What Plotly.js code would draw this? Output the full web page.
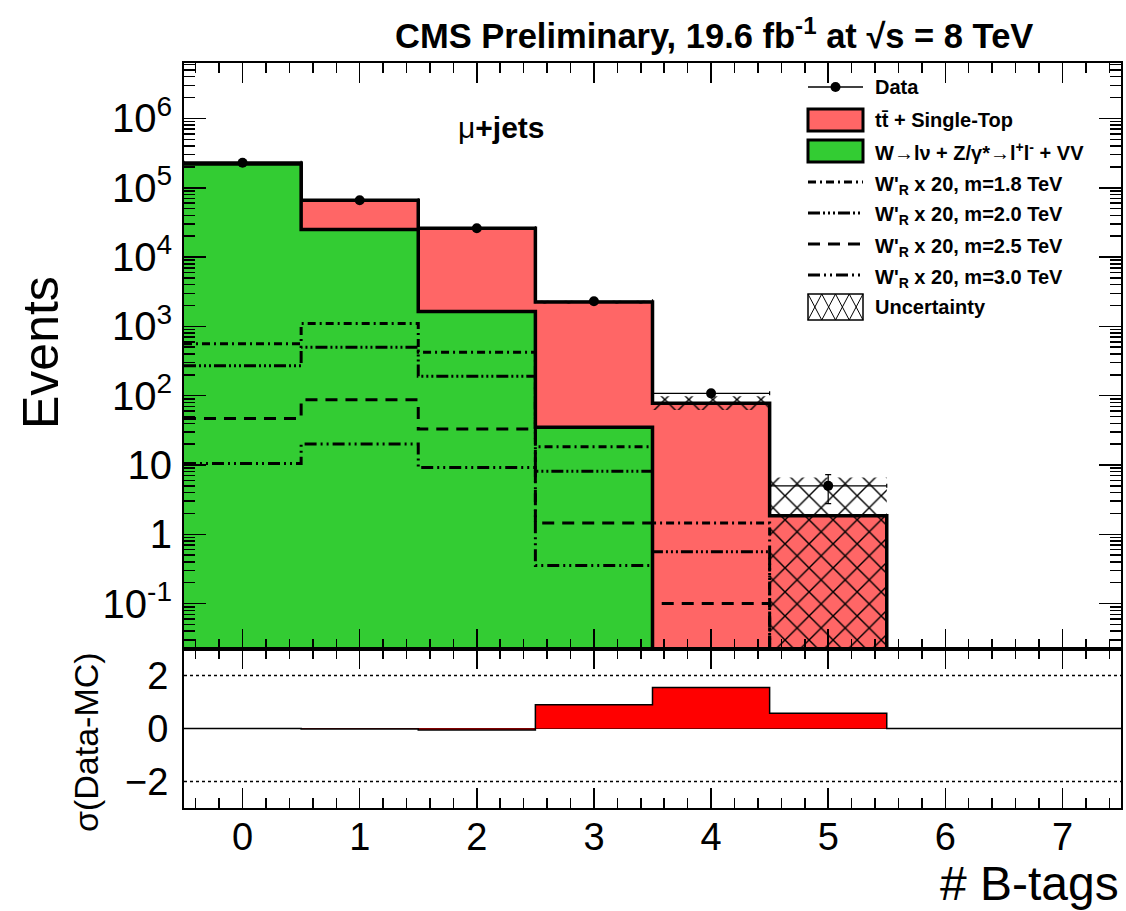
<!DOCTYPE html>
<html><head><meta charset="utf-8">
<script src="https://cdn.plot.ly/plotly-3.0.1.min.js"></script>
<style>body{margin:0;background:#fff}</style>
</head><body><div id="plot" style="width:1126px;height:911px"></div>
<script>
// ---------------- data ----------------
const binCenters = [0, 1, 2, 3, 4, 5, 6, 7];
const ewkVals  = [221000, 25000, 1640, 35, 0, 0, 0, 0];      // W->lv + Z/gamma* + VV
const topVals  = [7000, 41000, 24400, 2205, 78, 1.85, 0, 0];  // ttbar + single top
const dataVals = [230000, 66000, 26000, 2300, 108, 5, 0, 0];
const uncUp    = [236000, 68000, 27000, 2350, 98, 6.6, 0, 0];
const uncDown  = [221000, 64000, 25000, 2130, 62, 0, 0, 0];
const sigM18 = [560, 1100, 425, 18.4, 1.45, 0, 0, 0];
const sigM20 = [270, 500, 190, 8.1, 0.56, 0, 0, 0];
const sigM25 = [47, 87, 33, 1.45, 0.1, 0, 0, 0];
const sigM30 = [10.5, 20, 9.2, 0.355, 0, 0, 0, 0];
const pullVals = [0, -0.02, -0.06, 0.9, 1.55, 0.58, 0, 0];
const yTickVals = [0.1, 1, 10, 100, 1e3, 1e4, 1e5, 1e6];
const yTickText = ['10<sup>-1</sup>', '1', '10', '10<sup>2</sup>', '10<sup>3</sup>', '10<sup>4</sup>', '10<sup>5</sup>', '10<sup>6</sup>'];
const xTickVals = [0, 1, 2, 3, 4, 5, 6, 7];
const pullTickVals = [-2, 0, 2];
const pullRefs = [2, -2];
const legendLabels = [
  'Data',
  't<span>t\u0304</span> + Single-Top',
  'W\u2192l\u03bd + Z/\u03b3*\u2192l<sup>+</sup>l<sup>-</sup> + VV',
  "W'<sub>R</sub> x 20, m=1.8 TeV",
  "W'<sub>R</sub> x 20, m=2.0 TeV",
  "W'<sub>R</sub> x 20, m=2.5 TeV",
  "W'<sub>R</sub> x 20, m=3.0 TeV",
  'Uncertainty'
];

// ---------------- helpers ----------------
const FLOOR = 1e-5;
const edges = binCenters.map(c => c - 0.5).concat([binCenters[binCenters.length - 1] + 0.5]);
function step(vals, floor) {
  const y = vals.map(v => (floor !== undefined && v <= 0) ? floor : v);
  return { x: edges.slice(), y: y.concat([y[y.length - 1]]) };
}
const totalVals = ewkVals.map((v, i) => v + topVals[i]);

const RED = '#ff6666', GREEN = '#33cc33';
const dashes = {
  m18: '8px,4px,2px,4px',
  m20: '12px,3px,2px,3px,2px,3px,2px,3px',
  m25: '12px,8px',
  m30: '12px,4px,2px,4px,2px,4px'
};

const traces = [];
const sTot = step(totalVals, FLOOR);
traces.push({ x: sTot.x, y: sTot.y, mode: 'lines', line: { shape: 'hv', color: 'black', width: 3.5 },
  fill: 'tozeroy', fillcolor: RED, xaxis: 'x', yaxis: 'y', hoverinfo: 'skip', showlegend: false });
const sEwk = step(ewkVals, FLOOR);
traces.push({ x: sEwk.x, y: sEwk.y, mode: 'lines', line: { shape: 'hv', color: 'black', width: 3.5 },
  fill: 'tozeroy', fillcolor: GREEN, xaxis: 'x', yaxis: 'y', hoverinfo: 'skip', showlegend: false });

// uncertainty band polygon (hatched)
(function () {
  const xs = [], ys = [];
  for (let i = 0; i < binCenters.length; i++) {
    const u = uncUp[i] > 0 ? uncUp[i] : FLOOR;
    xs.push(edges[i], edges[i + 1]); ys.push(u, u);
  }
  for (let i = binCenters.length - 1; i >= 0; i--) {
    const d = uncDown[i] > 0 ? uncDown[i] : FLOOR;
    xs.push(edges[i + 1], edges[i]); ys.push(d, d);
  }
  xs.push(xs[0]); ys.push(ys[0]);
  traces.push({ x: xs, y: ys, mode: 'lines', line: { width: 0, color: 'rgba(0,0,0,0)' }, fill: 'toself',
    fillcolor: 'rgba(0,0,0,0)',
    fillpattern: { shape: 'x', fgcolor: 'black', bgcolor: 'rgba(0,0,0,0)', size: 17, solidity: 0.16 },
    xaxis: 'x', yaxis: 'y', hoverinfo: 'skip', showlegend: false });
})();

[[sigM18, dashes.m18], [sigM20, dashes.m20], [sigM25, dashes.m25], [sigM30, dashes.m30]].forEach(([vals, d]) => {
  const s = step(vals, FLOOR);
  traces.push({ x: s.x, y: s.y, mode: 'lines', line: { shape: 'hv', color: 'black', width: 3, dash: d },
    xaxis: 'x', yaxis: 'y', hoverinfo: 'skip', showlegend: false });
});

// data points
const dX = [], dY = [], dE = [];
dataVals.forEach((v, i) => { if (v > 0) { dX.push(binCenters[i]); dY.push(v); dE.push(Math.sqrt(v)); } });
traces.push({ x: dX, y: dY, mode: 'markers', marker: { color: 'black', size: 10 },
  error_y: { type: 'data', array: dE, color: 'black', thickness: 1.2, width: 3 },
  error_x: { type: 'constant', value: 0.5, color: 'black', thickness: 1.2, width: 2 },
  xaxis: 'x', yaxis: 'y', hoverinfo: 'skip', showlegend: false });

// pull panel
const sPull = step(pullVals);
traces.push({ x: sPull.x, y: sPull.y, mode: 'lines', line: { shape: 'hv', color: 'black', width: 1.5 },
  fill: 'tozeroy', fillcolor: '#ff0000', xaxis: 'x2', yaxis: 'y2', hoverinfo: 'skip', showlegend: false });

// ---------------- layout ----------------
const W = 1126, H = 911, ML = 184, MR = 5, MT = 63, MB = 103;
const PW = W - ML - MR, PH = H - MT - MB;
const px = x => (x - ML) / PW;
const py = y => (H - MB - y) / PH;
const split = py(649);

const FONT = 'Liberation Sans, Arial, Helvetica, sans-serif';
const axisCommon = {
  showgrid: false, zeroline: false, showline: true, linecolor: 'black', linewidth: 2,
  mirror: 'ticks', ticks: 'inside', tickcolor: 'black'
};

const shapes = [];
pullRefs.forEach(v => shapes.push({ type: 'line', xref: 'x2 domain', yref: 'y2', x0: 0, x1: 1, y0: v, y1: v,
  line: { color: 'black', width: 1.5, dash: 'dot' } }));

// manual legend
const legY = [87, 120, 151, 182, 213, 244, 275, 307];
const sx0 = 808, sx1 = 863, tx = 873;
const annotations = [];
legendLabels.forEach((t, i) => {
  const yy = legY[i] + (i >= 3 && i <= 6 ? 3 : 0);
  annotations.push({ xref: 'paper', yref: 'paper', x: px(tx), y: py(yy), xanchor: 'left', yanchor: 'middle',
    text: '<b>' + t + '</b>', showarrow: false, font: { family: FONT, size: 20, color: 'black' } });
});
// data symbol
shapes.push({ type: 'line', xref: 'paper', yref: 'paper', x0: px(sx0), x1: px(sx1), y0: py(legY[0]), y1: py(legY[0]), line: { color: 'black', width: 1.5 } });
const cx = (sx0 + sx1) / 2;
shapes.push({ type: 'circle', xref: 'paper', yref: 'paper', x0: px(cx - 5), x1: px(cx + 5), y0: py(legY[0] - 5), y1: py(legY[0] + 5), fillcolor: 'black', line: { color: 'black', width: 0 } });
// fill boxes
[[legY[1], RED], [legY[2], GREEN]].forEach(([yy, c]) => {
  shapes.push({ type: 'rect', xref: 'paper', yref: 'paper', x0: px(sx0), x1: px(sx1), y0: py(yy - 11), y1: py(yy + 11), fillcolor: c, line: { color: 'black', width: 3 } });
});
[dashes.m18, dashes.m20, dashes.m25, dashes.m30].forEach((d, k) => {
  const yy = legY[3 + k];
  shapes.push({ type: 'line', xref: 'paper', yref: 'paper', x0: px(sx0), x1: px(sx1), y0: py(yy), y1: py(yy), line: { color: 'black', width: 3, dash: d } });
});
// uncertainty box with X hatch
(function () {
  const yy = legY[7], y0 = yy - 13, y1 = yy + 13, n = 4, w = (sx1 - sx0) / n;
  shapes.push({ type: 'rect', xref: 'paper', yref: 'paper', x0: px(sx0), x1: px(sx1), y0: py(y0), y1: py(y1), fillcolor: 'white', line: { color: 'black', width: 1.5 } });
  let p = '';
  for (let k = 0; k < n; k++) {
    const a = sx0 + k * w, b = a + w;
    p += `M${px(a)},${py(y0)} L${px(b)},${py(y1)} M${px(b)},${py(y0)} L${px(a)},${py(y1)} `;
  }
  shapes.push({ type: 'path', xref: 'paper', yref: 'paper', path: p, line: { color: 'black', width: 1 } });
})();

annotations.push({ xref: 'paper', yref: 'paper', x: px(714), y: py(33), xanchor: 'center', yanchor: 'middle', showarrow: false,
  text: '<b>CMS Preliminary, 19.6 fb<sup>-1</sup> at \u221As = 8 TeV</b>',
  font: { family: FONT, size: 34.5, color: 'black' } });
annotations.push({ xref: 'paper', yref: 'paper', x: px(501), y: py(127), xanchor: 'center', yanchor: 'middle', showarrow: false,
  text: '\u03bc<b>+jets</b>', font: { family: FONT, size: 30, color: 'black' } });
annotations.push({ xref: 'paper', yref: 'paper', x: px(41), y: py(353), xanchor: 'center', yanchor: 'middle', showarrow: false,
  textangle: -90, text: 'Events', font: { family: FONT, size: 50, color: 'black' } });
annotations.push({ xref: 'paper', yref: 'paper', x: px(86), y: py(742), xanchor: 'center', yanchor: 'middle', showarrow: false,
  textangle: -90, text: '\u03c3(Data-MC)', font: { family: FONT, size: 34, color: 'black' } });
annotations.push({ xref: 'paper', yref: 'paper', x: px(1121), y: py(883), xanchor: 'right', yanchor: 'middle', showarrow: false,
  text: '# B-tags', font: { family: FONT, size: 48, color: 'black' } });

const layout = {
  width: W, height: H, margin: { l: ML, r: MR, t: MT, b: MB },
  paper_bgcolor: 'white', plot_bgcolor: 'white', showlegend: false,
  font: { family: FONT, color: 'black' },
  xaxis: Object.assign({}, axisCommon, { domain: [0, 1], anchor: 'y', range: [-0.5, 7.5], matches: 'x2',
    tickmode: 'array', tickvals: xTickVals, ticklen: 20, tickwidth: 1.5, showticklabels: false,
    minor: { ticks: 'inside', ticklen: 10, tickwidth: 1.5, dtick: 0.2, tick0: 0, tickcolor: 'black' } }),
  xaxis2: Object.assign({}, axisCommon, { domain: [0, 1], anchor: 'y2', range: [-0.5, 7.5],
    tickmode: 'array', tickvals: xTickVals, ticklen: 20, tickwidth: 1.5, showticklabels: true,
    tickfont: { family: FONT, size: 38, color: 'black' }, ticklabelstandoff: -6,
    minor: { ticks: 'inside', ticklen: 10, tickwidth: 1.5, dtick: 0.2, tick0: 0, tickcolor: 'black' } }),
  yaxis: Object.assign({}, axisCommon, { domain: [split, 1], anchor: 'x', type: 'log', range: [-1.655, 6.80],
    tickmode: 'array', tickvals: yTickVals, ticktext: yTickText, ticklen: 22, tickwidth: 1.5,
    tickfont: { family: FONT, size: 40, color: 'black' }, ticklabelstandoff: 2,
    minor: { ticks: 'inside', ticklen: 11, tickwidth: 1.5, dtick: 'D1', tickcolor: 'black' } }),
  yaxis2: Object.assign({}, axisCommon, { domain: [0, split], anchor: 'x2', range: [-3, 3],
    tickmode: 'array', tickvals: pullTickVals, ticklen: 0, zeroline: true, zerolinecolor: 'black', zerolinewidth: 1,
    tickfont: { family: FONT, size: 38, color: 'black' }, ticklabelstandoff: 6 }),
  shapes: shapes,
  annotations: annotations
};

Plotly.newPlot('plot', traces, layout, { staticPlot: true, displayModeBar: false });
</script>
</body></html>
